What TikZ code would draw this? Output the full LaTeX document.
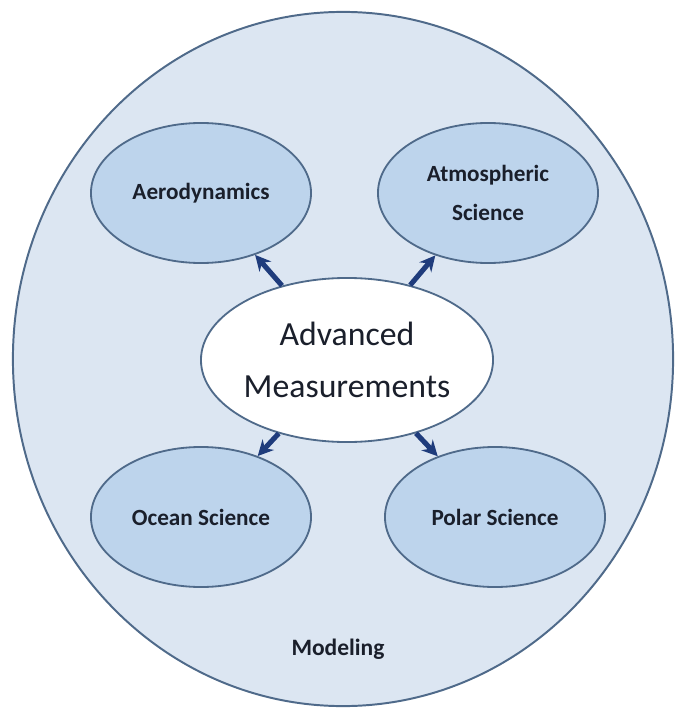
\documentclass[tikz,border=0pt]{standalone}
\usepackage{fontspec}
\setmainfont{Carlito}
\usetikzlibrary{shapes.geometric,arrows.meta}

\definecolor{fieldfill}{HTML}{DCE6F2}
\definecolor{areafill}{HTML}{BDD4EC}
\definecolor{rim}{HTML}{4F6A8A}
\definecolor{navy}{HTML}{1F3C7C}
\definecolor{ink}{HTML}{1A1F2B}

\begin{document}
\begin{tikzpicture}[x=0.025cm,y=-0.025cm,
    field/.style={ellipse,draw=rim,line width=1.4pt,fill=fieldfill,
      minimum width=16.5cm,minimum height=17.35cm,inner sep=0pt},
    area/.style={ellipse,draw=rim,line width=1.3pt,fill=areafill,
      minimum width=5.5cm,minimum height=3.5cm,inner sep=0pt,align=center,
      text=ink,font=\fontsize{16.5}{27.5}\selectfont\bfseries},
    hub/.style={ellipse,draw=rim,line width=1.3pt,fill=white,
      minimum width=7cm,minimum height=4.1cm,inner sep=0pt,align=center,
      text=ink,font=\fontsize{24}{37}\selectfont},
    link/.style={-{Stealth[length=11pt,width=11pt]},draw=navy,line width=3.6pt}]
  \useasboundingbox (0,0) rectangle (675,708);

  % outer field
  \node[field] (field) at (343,359) {};
  \node[text=ink,font=\fontsize{16.7}{20}\selectfont\bfseries] (modeling) at (338,649) {Modeling};

  % the four areas
  \node[area] (aero) at (201,193) {Aerodynamics};
  \node[area] (atmos) at (488,193) {Atmospheric\\Science};
  \node[area] (ocean) at (201,517) {Ocean Science};
  \node[area] (polar) at (495,517) {Polar Science};

  % centre
  \node[hub] (adv) at (347,360) {Advanced\\Measurements};

  \draw[link] (adv) -- (aero);
  \draw[link] (adv) -- (atmos);
  \draw[link] (adv) -- (ocean);
  \draw[link] (adv) -- (polar);
\end{tikzpicture}
\end{document}
